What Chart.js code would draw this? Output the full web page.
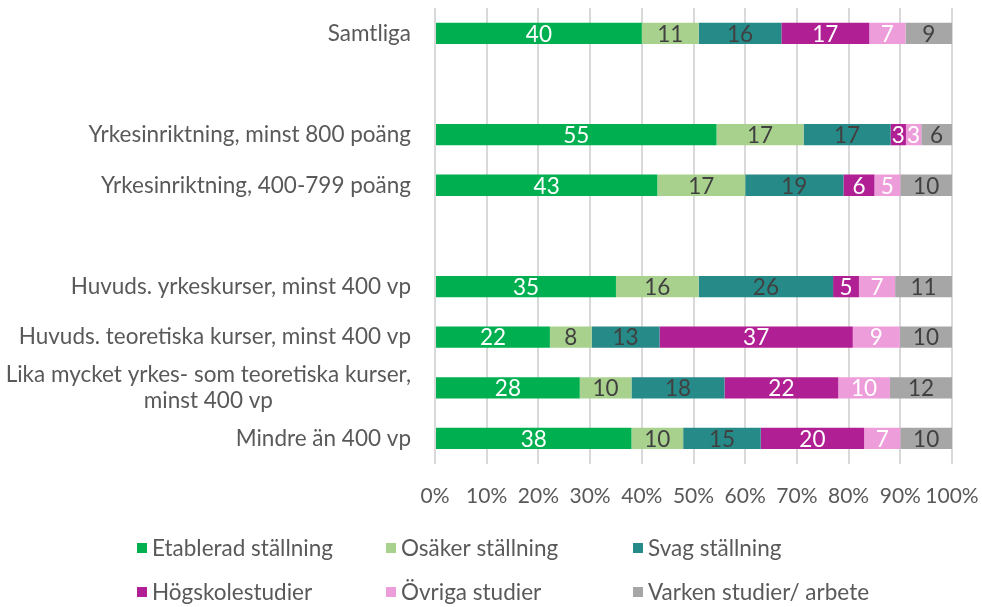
<!DOCTYPE html>
<html>
<head>
<meta charset="utf-8">
<script src="https://cdn.jsdelivr.net/npm/chart.js@4/dist/chart.umd.min.js"></script>
<style>
  html, body { margin: 0; padding: 0; background: #fff; }
  #wrap { position: relative; width: 982px; height: 607px; }
</style>
</head>
<body>
<div id="wrap"><canvas id="c" width="982" height="607"></canvas></div>
<script>
const categories = [
  "Samtliga",
  "",
  "Yrkesinriktning, minst 800 poäng",
  "Yrkesinriktning, 400-799 poäng",
  "",
  "Huvuds. yrkeskurser, minst 400 vp",
  "Huvuds. teoretiska kurser, minst 400 vp",
  ["Lika mycket yrkes- som teoretiska kurser,", "minst 400 vp"],
  "Mindre än 400 vp"
];
const seriesNames = ["Etablerad ställning", "Osäker ställning", "Svag ställning", "Högskolestudier", "Övriga studier", "Varken studier/ arbete"];
const etablerad = [40, null, 55, 43, null, 35, 22, 28, 38];
const osaker    = [11, null, 17, 17, null, 16,  8, 10, 10];
const svag      = [16, null, 17, 19, null, 26, 13, 18, 15];
const hogskole  = [17, null,  3,  6, null,  5, 37, 22, 20];
const ovriga    = [ 7, null,  3,  5, null,  7,  9, 10,  7];
const varken    = [ 9, null,  6, 10, null, 11, 10, 12, 10];
const xTicks = [0, 10, 20, 30, 40, 50, 60, 70, 80, 90, 100];

const raw = [etablerad, osaker, svag, hogskole, ovriga, varken];
const colors = ["#00b050", "#a9d18e", "#268a89", "#b01f94", "#ee9ddb", "#a6a6a6"];
const labelColors = ["#ffffff", "#404040", "#404040", "#ffffff", "#ffffff", "#404040"];
const FONT = "Lato";
const FS = 22.5;
const TXT = "#595959";

// row totals for 100% stacking
const totals = categories.map((_, i) => raw.reduce((s, arr) => s + (arr[i] || 0), 0));
const datasets = raw.map((arr, k) => ({
  label: seriesNames[k],
  data: arr.map((v, i) => v == null ? null : v / totals[i] * 100),
  rawValues: arr,
  backgroundColor: colors[k],
  borderWidth: 0,
  barPercentage: 0.84,
  categoryPercentage: 0.5
}));

const valueLabels = {
  id: 'valueLabels',
  afterDatasetsDraw(chart) {
    const ctx = chart.ctx;
    ctx.save();
    ctx.font = FS + "px " + FONT;
    ctx.textAlign = "center";
    ctx.textBaseline = "middle";
    chart.data.datasets.forEach((ds, k) => {
      const meta = chart.getDatasetMeta(k);
      meta.data.forEach((el, i) => {
        const v = ds.rawValues[i];
        if (v == null) return;
        const p = el.getCenterPoint();
        ctx.fillStyle = labelColors[k];
        ctx.fillText(String(v), p.x, p.y + 1);
      });
    });
    ctx.restore();
  }
};

const catLabels = {
  id: 'catLabels',
  afterDraw(chart) {
    const ctx = chart.ctx;
    const ys = chart.scales.y;
    const rightX = 411;
    ctx.save();
    ctx.font = FS + "px " + FONT;
    ctx.fillStyle = TXT;
    ctx.textBaseline = "middle";
    categories.forEach((c, i) => {
      const y = ys.getPixelForValue(i);
      if (Array.isArray(c)) {
        const w0 = ctx.measureText(c[0]).width;
        const cx = rightX - w0 / 2;
        const lh = 26;
        ctx.textAlign = "center";
        c.forEach((line, j) => {
          ctx.fillText(line, cx, y + (j - (c.length - 1) / 2) * lh);
        });
      } else if (c) {
        ctx.textAlign = "right";
        ctx.fillText(c, rightX, y);
      }
    });
    ctx.restore();
  }
};

const legendPlugin = {
  id: 'customLegend',
  afterDraw(chart) {
    const ctx = chart.ctx;
    const cols = [137, 386, 633];
    const rows = [548, 592];
    ctx.save();
    ctx.font = FS + "px " + FONT;
    ctx.textBaseline = "middle";
    ctx.textAlign = "left";
    seriesNames.forEach((name, k) => {
      const x = cols[k % 3], y = rows[Math.floor(k / 3)];
      ctx.fillStyle = colors[k];
      ctx.fillRect(x, y - 5, 10, 10);
      ctx.fillStyle = TXT;
      ctx.fillText(name, x + 15, y + 1);
    });
    ctx.restore();
  }
};

new Chart(document.getElementById('c'), {
  type: 'bar',
  data: { labels: categories, datasets },
  options: {
    indexAxis: 'y',
    responsive: false,
    animation: false,
    layout: { padding: { left: 435, right: 30, top: 8, bottom: 78 } },
    plugins: { legend: { display: false }, tooltip: { enabled: false } },
    scales: {
      x: {
        stacked: true,
        min: 0, max: 100,
        afterBuildTicks(scale) { scale.ticks = xTicks.map(v => ({ value: v })); },
        afterFit(scale) { scale.paddingRight = 0; scale.paddingLeft = 0; },
        grid: { color: "#d9d9d9", lineWidth: 2, drawTicks: false },
        border: { display: false },
        ticks: {
          padding: 20,
          color: TXT,
          font: { family: FONT, size: 21 },
          callback: v => v + "%",
          autoSkip: false,
          maxRotation: 0
        }
      },
      y: {
        stacked: true,
        grid: { display: false },
        border: { display: false },
        ticks: { display: false },
        afterFit(scale) { scale.width = 0; }
      }
    }
  },
  plugins: [valueLabels, catLabels, legendPlugin]
});
</script>
</body>
</html>
